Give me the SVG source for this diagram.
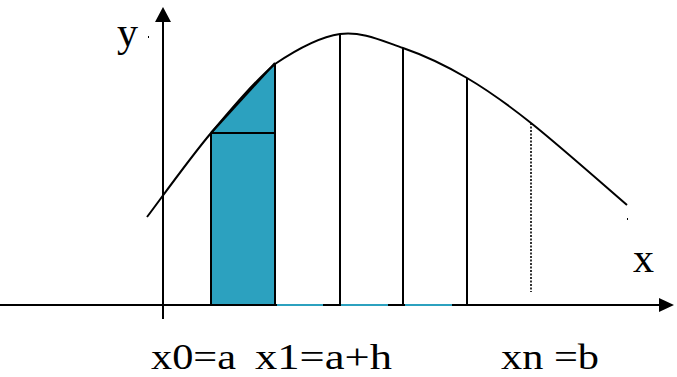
<svg xmlns="http://www.w3.org/2000/svg" width="677" height="377" viewBox="0 0 677 377">
<style>
.ln{stroke:#000;stroke-width:2;fill:none}
.cy{fill:#2ca1bf}
.cyl{stroke:#2ca1bf;stroke-width:2}
.t{font-family:"Liberation Serif","Times New Roman",serif;fill:#000}
</style>
<rect width="677" height="377" fill="#fff"/>
<g id="shaded-strip">
<polygon class="cy" points="211,133 275,63 275,305 211,305"/>
<line class="ln" x1="211" y1="133" x2="275" y2="133"/>
<line class="ln" x1="211" y1="133" x2="275" y2="63"/>
</g>
<g id="connectors">
<line class="ln" x1="0" y1="305" x2="660" y2="305"/>
<polygon points="659,298 674,305 659,312" fill="#000"/>
<line class="ln" x1="163" y1="319" x2="163" y2="20"/>
<polygon points="155,22 163,7 171,22" fill="#000"/>
<line class="cyl" x1="277" y1="305" x2="323" y2="305"/>
<line class="cyl" x1="341" y1="305" x2="388" y2="305"/>
<line class="cyl" x1="405" y1="305" x2="452" y2="305"/>
</g>
<g id="ordinates">
<line class="ln" x1="211" y1="133" x2="211" y2="305"/>
<line class="ln" x1="275" y1="63" x2="275" y2="305"/>
<line class="ln" x1="340" y1="34" x2="340" y2="305"/>
<line class="ln" x1="403" y1="48" x2="403" y2="305"/>
<line class="ln" x1="467" y1="78" x2="467" y2="305"/>
<line x1="531" y1="123" x2="531" y2="292" stroke="#000" stroke-width="1.6" stroke-dasharray="2,1.5"/>
</g>
<g id="curve">
<path class="ln" d="M147,217 C157.7,203 189.7,158.2 211,133 C232.3,107.8 253.5,82.5 275,64 C296.5,49.5 318.7,37 340,34 C361.3,31 381.8,40.7 403,48 C424.2,55.3 445.7,65.5 467,78 C488.3,90.5 504.3,101.8 531,123 C557.7,144.2 611,191.3 627,205"/>
<rect x="148" y="36" width="1" height="2" fill="#000"/>
<rect x="627" y="218" width="1" height="2" fill="#000"/>
</g>
<g id="labels">
<text class="t" x="117" y="46" font-size="42">y</text>
<text class="t" x="633" y="272" font-size="42">x</text>
<text class="t" x="151" y="369" font-size="36" textLength="85" lengthAdjust="spacingAndGlyphs">x0=a</text>
<text class="t" x="255" y="369" font-size="36" textLength="137" lengthAdjust="spacingAndGlyphs">x1=a+h</text>
<text class="t" x="501" y="369" font-size="36" textLength="98" lengthAdjust="spacingAndGlyphs">xn =b</text>
</g>
</svg>
